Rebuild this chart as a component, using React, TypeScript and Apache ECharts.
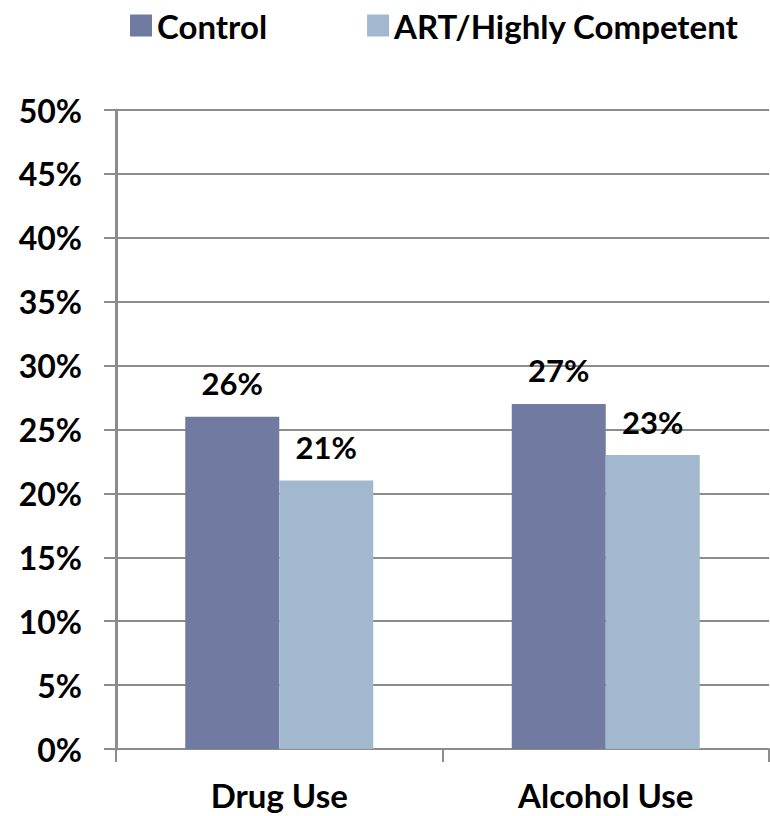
import React, { useEffect, useRef } from "react";
import * as echarts from "echarts";

const categories = ["Drug Use", "Alcohol Use"];
const seriesNames = ["Control", "ART/Highly Competent"];
const controlValues = [26, 27];
const artValues = [21, 23];
const yTicks = { min: 0, max: 50, interval: 5 };

const FONT = "Lato, 'Open Sans', sans-serif";

export default function App() {
  const ref = useRef<HTMLDivElement>(null);

  useEffect(() => {
    if (!ref.current) return;
    const chart = echarts.init(ref.current, undefined, { renderer: "svg" });
    const labelStyle = {
      show: true,
      position: "top" as const,
      distance: 18,
      formatter: (p: any) => `${p.value}%`,
      color: "#000",
      fontFamily: FONT,
      fontWeight: "bold" as const,
      fontSize: 31,
    };
    chart.setOption({
      animation: false,
      backgroundColor: "#fff",
      legend: {
        left: 125,
        top: 4,
        itemWidth: 22,
        itemHeight: 22,
        itemGap: 100,
        icon: "rect",
        textStyle: {
          color: "#000",
          fontFamily: FONT,
          fontWeight: "bold",
          fontSize: 33,
        },
        data: seriesNames,
      },
      grid: { left: 116, right: 1, top: 110, bottom: 67 },
      xAxis: {
        type: "category",
        data: categories,
        axisLine: { show: true, lineStyle: { color: "#8c8c8c", width: 2 } },
        axisTick: { show: true, length: 13, lineStyle: { color: "#8c8c8c", width: 2 } },
        axisLabel: {
          margin: 29,
          color: "#000",
          fontFamily: FONT,
          fontWeight: "bold",
          fontSize: 33,
        },
      },
      yAxis: {
        type: "value",
        min: yTicks.min,
        max: yTicks.max,
        interval: yTicks.interval,
        axisLine: { show: true, lineStyle: { color: "#8c8c8c", width: 3 } },
        axisTick: { show: true, length: 12, lineStyle: { color: "#8c8c8c", width: 2 } },
        splitLine: { show: true, lineStyle: { color: "#8c8c8c", width: 2 } },
        axisLabel: {
          margin: 34,
          formatter: "{value}%",
          color: "#000",
          fontFamily: FONT,
          fontWeight: "bold",
          fontSize: 32,
        },
      },
      series: [
        {
          name: seriesNames[0],
          type: "bar",
          data: controlValues,
          barWidth: 94,
          barGap: "0%",
          itemStyle: { color: "#717ba1" },
          label: labelStyle,
        },
        {
          name: seriesNames[1],
          type: "bar",
          data: artValues,
          barWidth: 94,
          barGap: "0%",
          itemStyle: { color: "#a2b8cf" },
          label: labelStyle,
        },
      ],
    });
    return () => chart.dispose();
  }, []);

  return (
    <div
      ref={ref}
      style={{ position: "fixed", left: 0, top: 0, width: 770, height: 816 }}
    />
  );
}
